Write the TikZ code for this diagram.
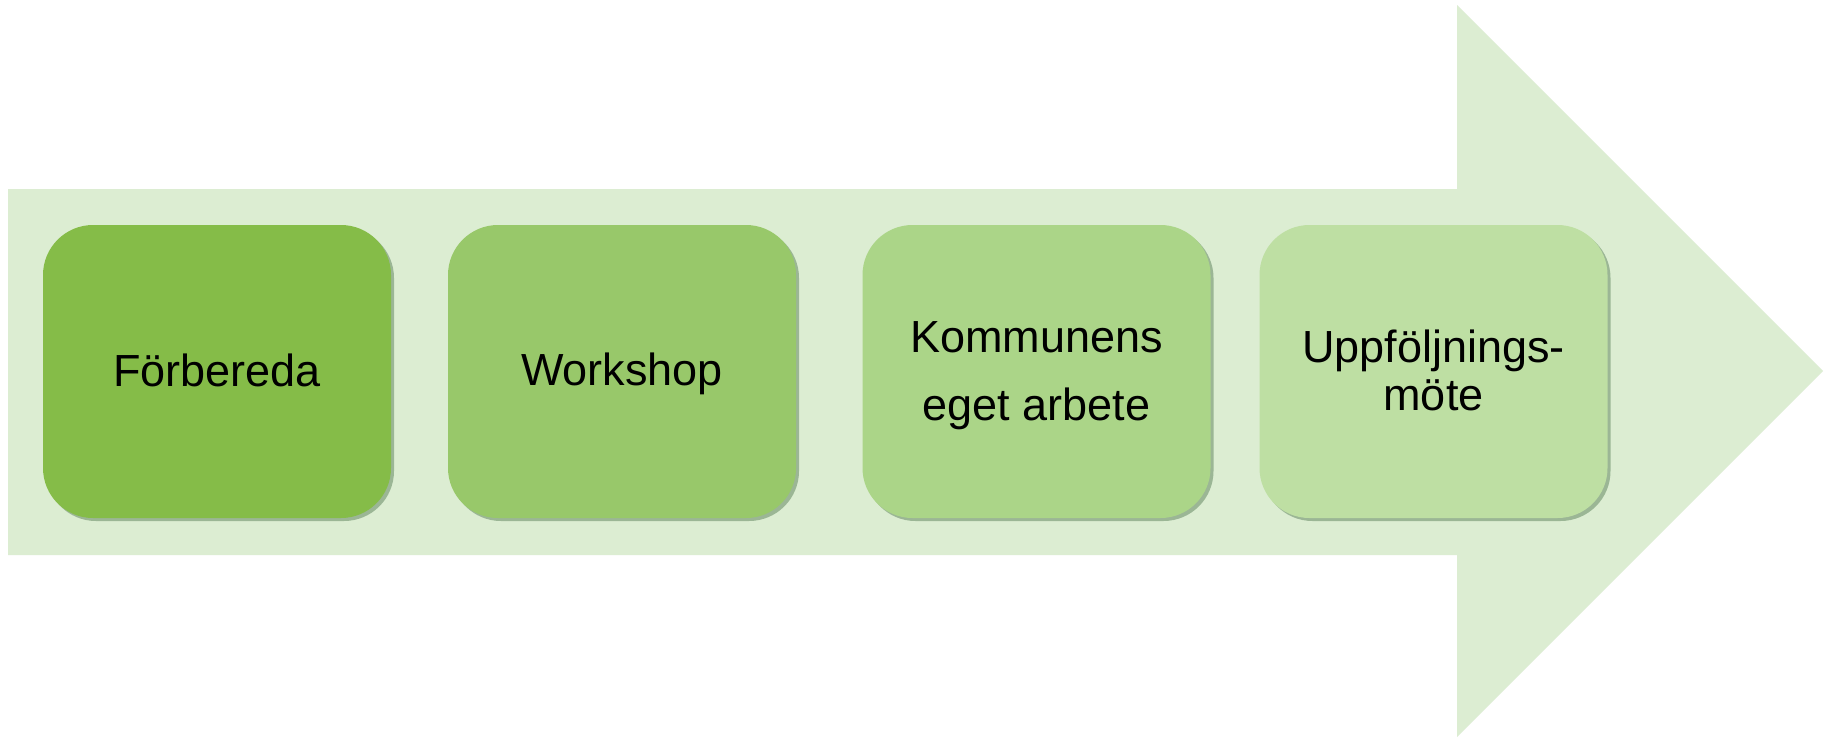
\documentclass[tikz,border=0pt]{standalone}
\usepackage{fontspec}
\setmainfont{Liberation Sans}
\usetikzlibrary{shadows}
\definecolor{arrowgreen}{RGB}{220,237,210}
\definecolor{gA}{RGB}{133,188,72}
\definecolor{gB}{RGB}{152,200,106}
\definecolor{gC}{RGB}{171,213,136}
\definecolor{gD}{RGB}{190,223,163}
\tikzset{
  stagebox/.style={draw=none, rounded corners=50pt, minimum width=348pt, minimum height=293pt, inner sep=0pt,
    drop shadow={shadow xshift=3pt, shadow yshift=-3pt, fill=black!60!green!40!gray, opacity=0.45}},
  stagetext/.style={anchor=base, inner sep=0pt, font=\fontsize{45}{45}\selectfont, text=black}
}
\begin{document}
\begin{tikzpicture}[x=1pt,y=-1pt]
\fill[white] (0,0) rectangle (1827,737);
\useasboundingbox (0,0) rectangle (1827,737);
\fill[arrowgreen] (8,189) -- (1457,189) -- (1457,5) -- (1823,371) -- (1457,737) -- (1457,555) -- (8,555) -- cycle;
\node[stagebox, fill=gA] (b1) at (217,371.5) {};
\node[stagebox, fill=gB] (b2) at (622,371.5) {};
\node[stagebox, fill=gC] (b3) at (1036.5,371.5) {};
\node[stagebox, fill=gD] (b4) at (1433.5,371.5) {};
\node[stagetext] (t1) at (217,386) {Förbereda};
\node[stagetext] (t2) at (622,385) {Workshop};
\node[stagetext] (t3a) at (1036.5,352) {Kommunens};
\node[stagetext] (t3b) at (1036.5,420) {eget arbete};
\node[stagetext] (t4a) at (1433.5,362) {Uppföljnings-};
\node[stagetext] (t4b) at (1433.5,410) {möte};
\end{tikzpicture}
\end{document}
